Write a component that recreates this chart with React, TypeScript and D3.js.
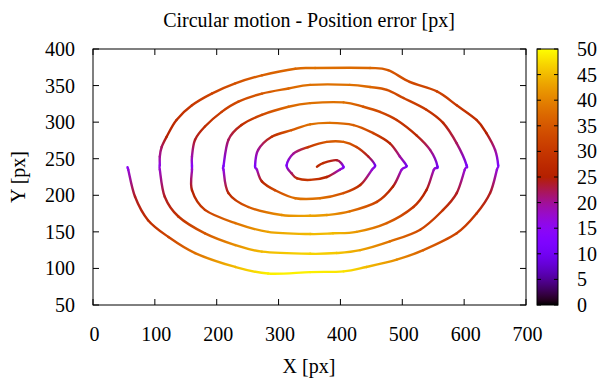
import { scaleLinear, range } from "d3";

// x, y, position error — read along the spiral, from the centre outwards
const track: [number, number, number][] = [
  [362, 239, 27], [372, 244, 28], [394, 248, 24], [405, 239, 12],
  [399, 235, 18], [378, 225, 26], [351, 221, 30], [330, 223, 28], [321, 230, 22], [313, 241, 12],
  [324, 257, 20], [348, 266, 30], [378, 273, 35], [405, 273, 36], [426, 266, 32], [445, 253, 24], [456, 241, 10],
  [451, 235, 17], [432, 214, 27], [405, 203, 34], [367, 196, 38], [327, 196, 38], [294, 207, 33], [273, 219, 26], [265, 235, 18], [262, 240, 12],
  [267, 262, 20], [289, 280, 28], [321, 289, 35], [351, 297, 38], [383, 299, 38], [421, 296, 36], [453, 285, 32], [480, 271, 26], [496, 253, 20], [507, 240, 10],
  [499, 235, 17], [485, 212, 25], [459, 191, 32], [415, 178, 38], [378, 173, 42], [351, 172, 43], [305, 173, 41], [251, 184, 35], [219, 203, 27], [211, 235, 16], [211, 240, 12],
  [219, 276, 22], [240, 296, 28], [273, 310, 33], [316, 321, 37], [351, 326, 38], [405, 327, 38], [437, 321, 35], [464, 314, 33], [491, 303, 30], [523, 282, 27], [545, 262, 21], [557, 239, 10],
  [551, 235, 18], [539, 207, 25], [518, 184, 30], [475, 162, 36], [426, 150, 42], [388, 148, 45], [351, 147, 45], [283, 150, 43], [230, 162, 38], [181, 180, 31], [160, 207, 25], [160, 235, 18], [160, 240, 14],
  [160, 253, 19], [165, 276, 24], [181, 294, 28], [208, 314, 31], [235, 328, 33], [273, 339, 35], [316, 346, 37], [351, 351, 38], [415, 351, 38], [448, 348, 37], [475, 344, 34], [502, 333, 32], [539, 317, 30], [566, 299, 27], [588, 271, 22], [604, 241, 11],
  [601, 235, 17], [588, 203, 24], [566, 180, 29], [529, 153, 33], [480, 137, 38], [432, 125, 43], [394, 121, 46], [351, 120, 47], [273, 123, 45], [230, 132, 41], [181, 148, 35], [138, 171, 29], [116, 198, 24], [108, 235, 18], [108, 241, 16],
  [108, 253, 20], [111, 266, 22], [119, 280, 25], [135, 303, 28], [160, 323, 30], [192, 339, 32], [230, 353, 34], [273, 364, 36], [327, 373, 37], [359, 374, 38], [448, 374, 37], [477, 371, 35], [512, 355, 33], [556, 342, 32], [588, 323, 30], [620, 303, 28], [636, 285, 25], [650, 262, 20], [655, 241, 12],
  [653, 235, 17], [642, 203, 24], [620, 175, 29], [588, 148, 32], [534, 125, 36], [491, 112, 41], [442, 102, 45], [405, 96, 48], [351, 95, 49], [283, 93, 49], [230, 102, 45], [165, 121, 38], [122, 143, 32], [89, 166, 28], [68, 198, 24], [57, 235, 17], [56, 237, 15],
];

const xTicks = [0, 100, 200, 300, 400, 500, 600, 700];
const yTicks = [50, 100, 150, 200, 250, 300, 350, 400];
const cbTicks = [0, 5, 10, 15, 20, 25, 30, 35, 40, 45, 50];

const width = 597;
const height = 381;
const plotLeft = 93;
const plotRight = 526;
const plotTop = 49;
const plotBottom = 305;
const cbLeft = 537;
const cbWidth = 21;
const font = "'Liberation Serif', 'Times New Roman', serif";

// gnuplot default palette (rgbformulae 7,5,15)
function palette(v: number) {
  const t = Math.max(0, Math.min(1, v / 50));
  const r = Math.sqrt(t);
  const g = t * t * t;
  const b = Math.max(0, Math.sin(2 * Math.PI * t));
  const c = (u: number) => Math.round(u * 255);
  return `rgb(${c(r)},${c(g)},${c(b)})`;
}

export default function App() {
  const x = scaleLinear().domain([0, 700]).range([plotLeft, plotRight]);
  const y = scaleLinear().domain([50, 400]).range([plotBottom, plotTop]);
  const cb = scaleLinear().domain([0, 50]).range([plotBottom, plotTop]);

  const pts = track.map(([a, b]) => [x(a), y(b)]);
  const n = pts.length;

  // catmull-rom pieces so each one can carry its own gradient
  const pieces = range(n - 1).map((i) => {
    const p0 = pts[Math.max(0, i - 1)];
    const p1 = pts[i];
    const p2 = pts[i + 1];
    const p3 = pts[Math.min(n - 1, i + 2)];
    const c1 = [p1[0] + (p2[0] - p0[0]) / 6, p1[1] + (p2[1] - p0[1]) / 6];
    const c2 = [p2[0] - (p3[0] - p1[0]) / 6, p2[1] - (p3[1] - p1[1]) / 6];
    return {
      d: `M${p1[0]},${p1[1]}C${c1[0]},${c1[1]} ${c2[0]},${c2[1]} ${p2[0]},${p2[1]}`,
      p1,
      p2,
      e1: track[i][2],
      e2: track[i + 1][2],
    };
  });

  return (
    <svg
      width={width}
      height={height}
      style={{ position: "absolute", left: 0, top: 0, background: "white" }}
      fontFamily={font}
      fontSize={20}>
      <defs>
        <linearGradient id="cbar" x1="0" y1="1" x2="0" y2="0">
          {range(0, 51).map((k) => (
            <stop key={k} offset={`${k * 2}%`} stopColor={palette(k)} />
          ))}
        </linearGradient>
        {pieces.map((s, i) => (
          <linearGradient
            key={i}
            id={`seg${i}`}
            gradientUnits="userSpaceOnUse"
            x1={s.p1[0]}
            y1={s.p1[1]}
            x2={s.p2[0]}
            y2={s.p2[1]}>
            <stop offset="0" stopColor={palette(s.e1)} />
            <stop offset="1" stopColor={palette(s.e2)} />
          </linearGradient>
        ))}
      </defs>

      <text x={309} y={26.5} textAnchor="middle">
        Circular motion - Position error [px]
      </text>

      {/* spiral */}
      <g fill="none" strokeWidth={2.4} strokeLinecap="round">
        {pieces.map((s, i) => (
          <path key={i} d={s.d} stroke={`url(#seg${i})`} />
        ))}
      </g>

      {/* frame and ticks */}
      <g stroke="black" strokeWidth={1}>
        {xTicks.map((t) => (
          <g key={t}>
            <line x1={x(t)} x2={x(t)} y1={plotBottom} y2={plotBottom - 6} />
            <line x1={x(t)} x2={x(t)} y1={plotTop} y2={plotTop + 6} />
          </g>
        ))}
        {yTicks.map((t) => (
          <g key={t}>
            <line x1={plotLeft} x2={plotLeft + 6} y1={y(t)} y2={y(t)} />
            <line x1={plotRight} x2={plotRight - 6} y1={y(t)} y2={y(t)} />
          </g>
        ))}
        <rect
          x={plotLeft}
          y={plotTop}
          width={plotRight - plotLeft}
          height={plotBottom - plotTop}
          fill="none"
        />
      </g>

      {xTicks.map((t) => (
        <text key={t} x={x(t) + 1.5} y={340.5} textAnchor="middle">
          {t}
        </text>
      ))}
      {yTicks.map((t) => (
        <text key={t} x={75} y={y(t)} dy="0.35em" textAnchor="end">
          {t}
        </text>
      ))}

      <text x={309} y={372.5} textAnchor="middle">
        X [px]
      </text>
      <text transform="translate(25,177) rotate(-90)" textAnchor="middle">
        Y [px]
      </text>

      {/* colour box */}
      <rect
        x={cbLeft}
        y={plotTop}
        width={cbWidth}
        height={plotBottom - plotTop}
        fill="url(#cbar)"
        stroke="black"
      />
      <g stroke="black">
        {cbTicks.map((t) => (
          <g key={t}>
            <line x1={cbLeft} x2={cbLeft + 4} y1={cb(t)} y2={cb(t)} />
            <line x1={cbLeft + cbWidth} x2={cbLeft + cbWidth - 4} y1={cb(t)} y2={cb(t)} />
          </g>
        ))}
      </g>
      {cbTicks.map((t) => (
        <text key={t} x={577} y={cb(t)} dy="0.35em">
          {t}
        </text>
      ))}
    </svg>
  );
}
